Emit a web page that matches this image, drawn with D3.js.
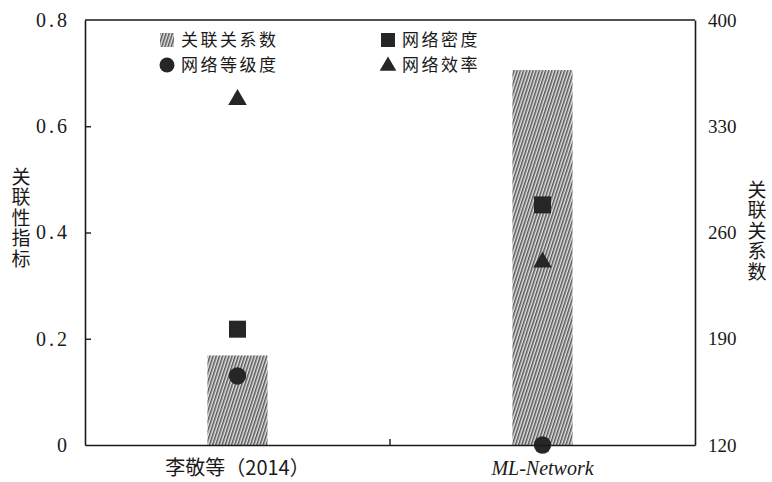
<!DOCTYPE html>
<html>
<head>
<meta charset="utf-8">
<script src="https://cdn.jsdelivr.net/npm/d3@7"></script>
<style>
  html, body { margin: 0; padding: 0; background: #fff; }
  svg { display: block; }
  .zh { font-family: "Noto Sans CJK SC", "Noto Sans", sans-serif; }
  .num { font-family: "Liberation Serif", "DejaVu Serif", serif; }
  .vt { writing-mode: vertical-rl; text-orientation: upright; }
</style>
</head>
<body>
<svg id="chart" width="772" height="482"></svg>
<script>
// Categories and series
const categories = ["李敬等（2014）", "ML-Network"];
const relationCount = [179, 367];        // 关联关系数 (right axis)
const networkDensity = [0.218, 0.452];   // 网络密度
const networkHierarchy = [0.13, 0.0];    // 网络等级度
const networkEfficiency = [0.65, 0.344]; // 网络效率

// Tick values
const leftTicks = [0, 0.2, 0.4, 0.6, 0.8];
const leftTickLabels = ["0", "0.2", "0.4", "0.6", "0.8"];
const rightTicks = [120, 190, 260, 330, 400];

// Legend entries, laid out in two columns of two rows
const legendColumns = [
  [{ key: "bar", label: "关联关系数" }, { key: "circle", label: "网络等级度" }],
  [{ key: "square", label: "网络密度" }, { key: "triangle", label: "网络效率" }]
];

const svg = d3.select("#chart");
const margin = { left: 85, right: 77, top: 20, bottom: 37 };
const W = 772, H = 482;
const x0 = margin.left, x1 = W - margin.right;
const y0 = H - margin.bottom, y1 = margin.top;

const x = d3.scaleBand().domain(categories).range([x0, x1]).padding(0);
const yL = d3.scaleLinear().domain([0, 0.8]).range([y0, y1]);
const yR = d3.scaleLinear().domain([120, 400]).range([y0, y1]);

const ink = "#1a1a1a";
const markFill = "#262626";

// Hatched fill for the bars
const defs = svg.append("defs");
const pat = defs.append("pattern")
  .attr("id", "hatch")
  .attr("patternUnits", "userSpaceOnUse")
  .attr("width", 3).attr("height", 3)
  .attr("patternTransform", "rotate(18)");
pat.append("rect").attr("width", 3).attr("height", 3).attr("fill", "#e4e4e4");
pat.append("rect").attr("width", 1.5).attr("height", 3).attr("fill", "#555");

// Bars (right axis)
const barW = x.bandwidth() * 0.197;
svg.append("g").selectAll("rect")
  .data(categories)
  .join("rect")
  .attr("x", d => x(d) + x.bandwidth() / 2 - barW / 2)
  .attr("y", (d, i) => yR(relationCount[i]))
  .attr("width", barW)
  .attr("height", (d, i) => yR(120) - yR(relationCount[i]))
  .attr("fill", "url(#hatch)");

// Markers (left axis)
const cx = d => x(d) + x.bandwidth() / 2;
const symSquare = d3.symbol().type(d3.symbolSquare).size(17 * 17);
const symCircle = d3.symbol().type(d3.symbolCircle).size(Math.PI * 8.7 * 8.7);
const symTriangle = d3.symbol().type(d3.symbolTriangle).size(150);

const marks = svg.append("g");
marks.selectAll(".sq").data(categories).join("path")
  .attr("class", "sq")
  .attr("d", symSquare)
  .attr("transform", (d, i) => `translate(${cx(d)},${yL(networkDensity[i])})`)
  .attr("fill", markFill);
marks.selectAll(".tri").data(categories).join("path")
  .attr("class", "tri")
  .attr("d", symTriangle)
  .attr("transform", (d, i) => `translate(${cx(d)},${yL(networkEfficiency[i])})`)
  .attr("fill", markFill);
marks.selectAll(".ci").data(categories).join("path")
  .attr("class", "ci")
  .attr("d", symCircle)
  .attr("transform", (d, i) => `translate(${cx(d)},${yL(networkHierarchy[i])})`)
  .attr("fill", markFill);

// Left axis with inward ticks
const axL = svg.append("g")
  .attr("transform", `translate(${x0},0)`)
  .call(d3.axisLeft(yL).tickValues(leftTicks)
    .tickFormat((d, i) => leftTickLabels[i])
    .tickSize(-6).tickSizeOuter(0).tickPadding(15));
axL.select(".domain").attr("stroke", ink).attr("stroke-width", 1.6);
axL.selectAll(".tick line").attr("stroke", ink).attr("stroke-width", 1.4)
  .filter(d => d === 0 || d === 0.8).remove();
axL.selectAll(".tick text").attr("class", "num")
  .attr("font-size", 20).attr("letter-spacing", 3).attr("fill", ink);

// Right axis, labels only
const axR = svg.append("g")
  .attr("transform", `translate(${x1},0)`)
  .call(d3.axisRight(yR).tickValues(rightTicks).tickSize(0).tickSizeOuter(0).tickPadding(13));
axR.select(".domain").attr("stroke", ink).attr("stroke-width", 1.6);
axR.selectAll(".tick text").attr("class", "num")
  .attr("font-size", 19).attr("fill", ink);

// Bottom axis: divider tick between categories
const axB = svg.append("g")
  .attr("transform", `translate(0,${y0})`)
  .call(d3.axisBottom(x).tickSize(0).tickSizeOuter(0).tickFormat(""));
axB.select(".domain").attr("stroke", ink).attr("stroke-width", 1.6);
axB.selectAll(".tick").remove();
axB.append("line")
  .attr("x1", x(categories[1])).attr("x2", x(categories[1]))
  .attr("y1", 0).attr("y2", -6)
  .attr("stroke", ink).attr("stroke-width", 1.4);

// Category labels
svg.append("g").selectAll("text").data(categories).join("text")
  .attr("class", (d, i) => i === 0 ? "zh" : "num")
  .attr("x", d => cx(d))
  .attr("y", y0 + 30)
  .attr("text-anchor", "middle")
  .attr("font-size", 20)
  .attr("font-style", (d, i) => i === 1 ? "italic" : "normal")
  .attr("fill", ink)
  .text(d => d);

// Top frame edge
svg.append("line")
  .attr("x1", x0).attr("x2", x1)
  .attr("y1", yL(0.8)).attr("y2", yL(0.8))
  .attr("stroke", ink).attr("stroke-width", 1.6);

// Vertical axis titles
function verticalTitle(str, xPos, yTop) {
  svg.append("text").attr("class", "zh vt")
    .attr("x", xPos).attr("y", yTop)
    .attr("font-size", 19).attr("letter-spacing", 1.5)
    .attr("fill", ink)
    .text(str);
}
verticalTitle("关联性指标", 21, 167);
verticalTitle("关联关系数", 757, 180);

// Legend: symbols and labels in two columns
const legendX = [160, 381];
const legendRowY = [40, 65];
const lg = svg.append("g");
legendColumns.forEach((col, ci) => {
  const gx = legendX[ci];
  col.forEach((item, ri) => {
    const g = lg.append("g").attr("transform", `translate(${gx},${legendRowY[ri]})`);
    if (item.key === "bar") {
      g.append("rect").attr("x", 0).attr("y", -7).attr("width", 14).attr("height", 14)
        .attr("fill", "url(#hatch)");
    } else if (item.key === "square") {
      g.append("path").attr("d", d3.symbol().type(d3.symbolSquare).size(14 * 14))
        .attr("transform", "translate(7,0)").attr("fill", markFill);
    } else if (item.key === "circle") {
      g.append("path").attr("d", d3.symbol().type(d3.symbolCircle).size(Math.PI * 7.5 * 7.5))
        .attr("transform", "translate(7,0)").attr("fill", markFill);
    } else {
      g.append("path").attr("d", d3.symbol().type(d3.symbolTriangle).size(120))
        .attr("transform", "translate(7,1)").attr("fill", markFill);
    }
    g.append("text").attr("class", "zh")
      .attr("x", 21).attr("y", 0).attr("dy", "0.36em")
      .attr("font-size", 17).attr("letter-spacing", 2.5).attr("fill", ink)
      .text(item.label);
  });
});
</script>
</body>
</html>
